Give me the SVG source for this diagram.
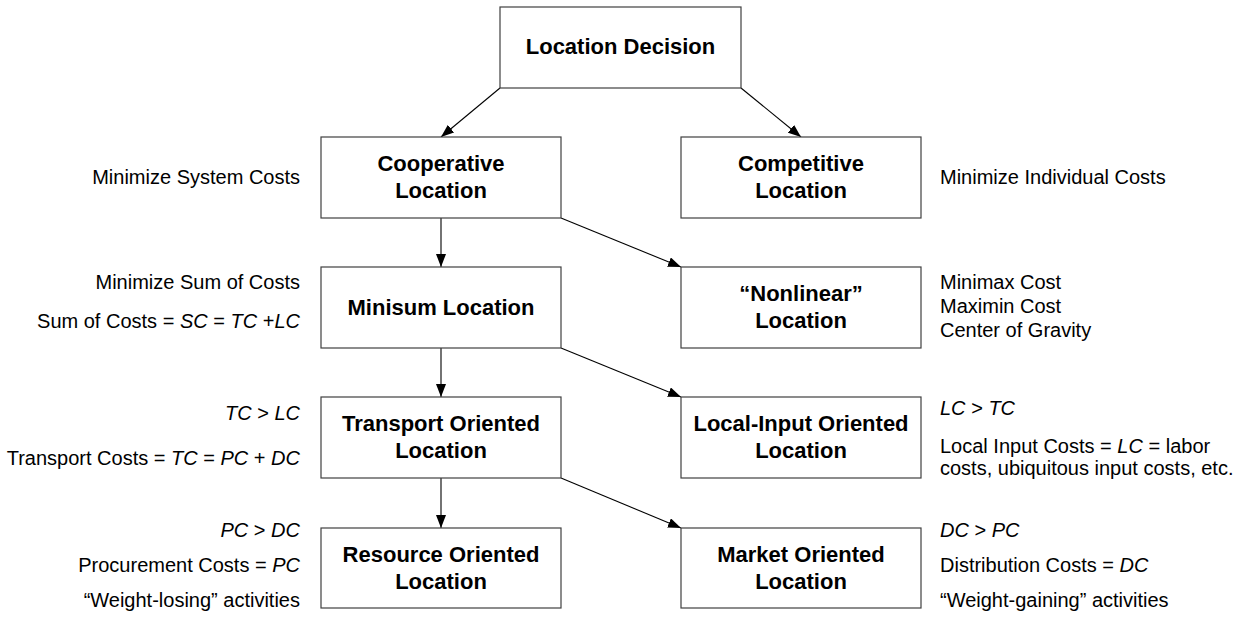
<svg xmlns="http://www.w3.org/2000/svg" width="1242" height="618" viewBox="0 0 1242 618">
<style>
.box{fill:#fff;stroke:#404040;stroke-width:1.2}
.nt{font-family:"Liberation Sans",Arial,sans-serif;font-size:22px;font-weight:bold;fill:#000;text-anchor:middle}
.lt{font-family:"Liberation Sans",Arial,sans-serif;font-size:20px;fill:#000;text-anchor:end}
.rt{font-family:"Liberation Sans",Arial,sans-serif;font-size:20px;fill:#000;text-anchor:start}
.i{font-style:italic}
.cn{stroke:#000;stroke-width:1.1;fill:none;marker-end:url(#ah)}
</style>
<defs>
<marker id="ah" markerUnits="userSpaceOnUse" markerWidth="14" markerHeight="10" refX="13" refY="5" orient="auto">
<path d="M0,0 L13,5 L0,10 Z" fill="#000"/>
</marker>
</defs>
<rect width="1242" height="618" fill="#fff"/>
<g id="connectors">
<line class="cn" x1="500" y1="88" x2="441" y2="137"/>
<line class="cn" x1="741" y1="88" x2="801" y2="137"/>
<line class="cn" x1="441" y1="218" x2="441" y2="267"/>
<line class="cn" x1="561" y1="218" x2="681" y2="267"/>
<line class="cn" x1="441" y1="348" x2="441" y2="397"/>
<line class="cn" x1="561" y1="348" x2="681" y2="397"/>
<line class="cn" x1="441" y1="478" x2="441" y2="528"/>
<line class="cn" x1="561" y1="478" x2="681" y2="528"/>
</g>
<g id="location-decision">
<rect class="box" x="500" y="7" width="241" height="81"/>
<text class="nt" x="620.5" y="54">Location Decision</text>
</g>
<g id="cooperative">
<rect class="box" x="321" y="137" width="240" height="81"/>
<text class="nt" x="441" y="171">Cooperative</text>
<text class="nt" x="441" y="198">Location</text>
</g>
<g id="competitive">
<rect class="box" x="681" y="137" width="240" height="81"/>
<text class="nt" x="801" y="171">Competitive</text>
<text class="nt" x="801" y="198">Location</text>
</g>
<g id="minisum">
<rect class="box" x="321" y="267" width="240" height="81"/>
<text class="nt" x="441" y="315">Minisum Location</text>
</g>
<g id="nonlinear">
<rect class="box" x="681" y="267" width="240" height="81"/>
<text class="nt" x="801" y="301">“Nonlinear”</text>
<text class="nt" x="801" y="328">Location</text>
</g>
<g id="transport">
<rect class="box" x="321" y="397" width="240" height="81"/>
<text class="nt" x="441" y="431">Transport Oriented</text>
<text class="nt" x="441" y="458">Location</text>
</g>
<g id="local-input">
<rect class="box" x="681" y="397" width="240" height="81"/>
<text class="nt" x="801" y="431">Local-Input Oriented</text>
<text class="nt" x="801" y="458">Location</text>
</g>
<g id="resource">
<rect class="box" x="321" y="528" width="240" height="80"/>
<text class="nt" x="441" y="562">Resource Oriented</text>
<text class="nt" x="441" y="589">Location</text>
</g>
<g id="market">
<rect class="box" x="681" y="528" width="240" height="80"/>
<text class="nt" x="801" y="562">Market Oriented</text>
<text class="nt" x="801" y="589">Location</text>
</g>
<g id="annotations">
<text class="lt" x="300" y="184">Minimize System Costs</text>
<text class="rt" x="940" y="184">Minimize Individual Costs</text>
<text class="lt" x="300" y="289">Minimize Sum of Costs</text>
<text class="lt" x="300" y="328">Sum of Costs = <tspan class="i">SC</tspan> = <tspan class="i">TC</tspan> +<tspan class="i">LC</tspan></text>
<text class="rt" x="940" y="289">Minimax Cost</text>
<text class="rt" x="940" y="313">Maximin Cost</text>
<text class="rt" x="940" y="337">Center of Gravity</text>
<text class="lt" x="300" y="420"><tspan class="i">TC</tspan> &gt; <tspan class="i">LC</tspan></text>
<text class="lt" x="300" y="465">Transport Costs = <tspan class="i">TC</tspan> = <tspan class="i">PC</tspan> + <tspan class="i">DC</tspan></text>
<text class="rt" x="940" y="415"><tspan class="i">LC</tspan> &gt; <tspan class="i">TC</tspan></text>
<text class="rt" x="940" y="453">Local Input Costs = <tspan class="i">LC</tspan> = labor</text>
<text class="rt" x="940" y="475">costs, ubiquitous input costs, etc.</text>
<text class="lt" x="300" y="537"><tspan class="i">PC</tspan> &gt; <tspan class="i">DC</tspan></text>
<text class="lt" x="300" y="572">Procurement Costs = <tspan class="i">PC</tspan></text>
<text class="lt" x="300" y="607">“Weight-losing” activities</text>
<text class="rt" x="940" y="537"><tspan class="i">DC</tspan> &gt; <tspan class="i">PC</tspan></text>
<text class="rt" x="940" y="572">Distribution Costs = <tspan class="i">DC</tspan></text>
<text class="rt" x="940" y="607">“Weight-gaining” activities</text>
</g>
</svg>
